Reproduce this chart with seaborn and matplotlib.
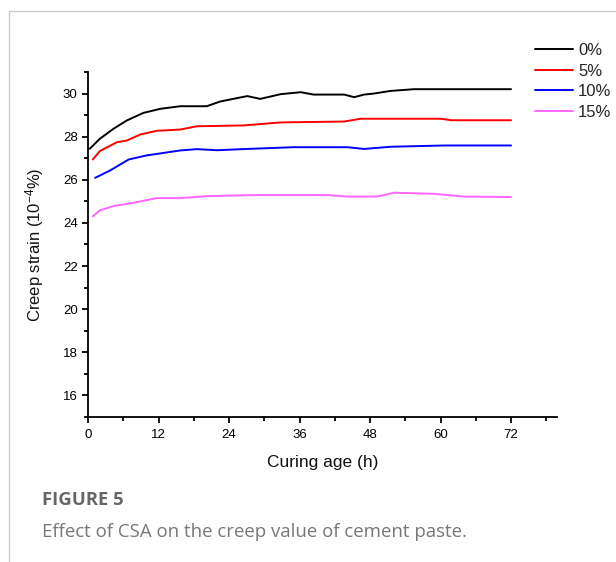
import pandas as pd
import matplotlib.pyplot as plt
import seaborn as sns

# Creep strain curves (hours, 10^-4 %)
hours_0 = [0.3, 2.0, 4.3, 6.6, 9.4, 12.3, 15.7, 20.2, 22.5, 27.1, 29.3, 32.8, 36.2, 38.4, 43.6, 45.3, 47.0, 48.7, 51.5, 55.5, 72.0]
strain_0 = [27.44, 27.9, 28.36, 28.75, 29.1, 29.29, 29.41, 29.41, 29.63, 29.88, 29.75, 29.97, 30.06, 29.95, 29.95, 29.83, 29.95, 30.0, 30.12, 30.2, 30.2]

hours_5 = [0.8, 2.0, 4.9, 6.6, 8.9, 11.7, 15.7, 18.5, 26.5, 32.8, 43.6, 46.4, 60.1, 61.8, 72.0]
strain_5 = [26.94, 27.33, 27.74, 27.82, 28.1, 28.27, 28.33, 28.48, 28.52, 28.66, 28.7, 28.83, 28.83, 28.76, 28.76]

hours_10 = [1.2, 3.75, 6.9, 10.0, 15.7, 18.5, 22.0, 27.1, 35.0, 44.1, 47.0, 51.5, 60.6, 72.0]
strain_10 = [26.09, 26.43, 26.94, 27.13, 27.36, 27.42, 27.37, 27.43, 27.51, 27.51, 27.43, 27.53, 27.59, 27.59]

hours_15 = [0.8, 2.0, 4.3, 7.7, 11.7, 15.7, 20.2, 28.2, 40.7, 44.1, 49.2, 52.1, 58.9, 64.0, 72.0]
strain_15 = [24.3, 24.58, 24.78, 24.93, 25.15, 25.15, 25.24, 25.29, 25.29, 25.22, 25.22, 25.4, 25.35, 25.22, 25.2]

labels = ['0%', '5%', '10%', '15%']
colors = ['black', '#ff0000', '#0000ff', '#ff66ff']

frames = []
for lab, h, s in zip(labels, [hours_0, hours_5, hours_10, hours_15],
                     [strain_0, strain_5, strain_10, strain_15]):
    frames.append(pd.DataFrame({'hours': h, 'strain': s, 'CSA': lab}))
df = pd.concat(frames, ignore_index=True)

sns.set_style('ticks')
plt.rcParams['font.family'] = ['Liberation Sans', 'DejaVu Sans']
plt.rcParams['mathtext.fontset'] = 'custom'
plt.rcParams['mathtext.rm'] = 'Liberation Sans'
plt.rcParams['mathtext.default'] = 'regular'

fig = plt.figure(figsize=(6.16, 5.62), dpi=100)
ax = fig.add_axes([0.143, 0.258, 0.761, 0.614])

sns.lineplot(data=df, x='hours', y='strain', hue='CSA', palette=colors,
             hue_order=labels, linewidth=1.4, ax=ax, sort=False, estimator=None)

ax.set_xlim(0, 79.8)
ax.set_ylim(15, 31)
ax.set_xticks([0, 12, 24, 36, 48, 60, 72])
ax.set_xticks(range(6, 80, 12), minor=True)
ax.set_yticks(range(16, 31, 2))
ax.set_yticks(range(15, 32, 2), minor=True)
ax.tick_params(axis='both', which='major', length=4.5, width=1.3, labelsize=9.5,
               direction='out', color='black', labelcolor='black')
ax.tick_params(axis='both', which='minor', length=3, width=1.3, direction='out', color='black')
ax.tick_params(axis='x', which='major', pad=4)
ax.tick_params(axis='y', which='major', pad=3)
for side in ['top', 'right']:
    ax.spines[side].set_visible(False)
for side in ['left', 'bottom']:
    ax.spines[side].set_linewidth(1.3)
    ax.spines[side].set_color('black')

ax.set_xlabel('Curing age (h)', fontsize=12.5, labelpad=10, color='#111111')
ax.set_ylabel('Creep strain (10$^{-4}$%)', fontsize=12, labelpad=12, color='#111111')

ax.legend(loc='upper left', bbox_to_anchor=(0.868, 0.923), bbox_transform=fig.transFigure,
          frameon=False, fontsize=12, handlelength=2.3, handletextpad=0.3,
          labelspacing=0.33, borderaxespad=0, borderpad=0)

# page frame and caption
fig.add_artist(plt.Line2D([0.015, 1.0], [0.98, 0.98], color='#cccccc', lw=1, transform=fig.transFigure))
fig.add_artist(plt.Line2D([0.015, 0.015], [0.0, 0.98], color='#cccccc', lw=1, transform=fig.transFigure))
fig.text(0.068, 0.111, 'FIGURE 5', fontsize=13.3, fontweight='bold', color='#666666',
         family=['Open Sans', 'DejaVu Sans'], va='center')
fig.text(0.068, 0.053, 'Effect of CSA on the creep value of cement paste.', fontsize=13.4,
         color='#777777', family=['Open Sans', 'DejaVu Sans'], va='center')

fig.savefig('out.png', dpi=100)
